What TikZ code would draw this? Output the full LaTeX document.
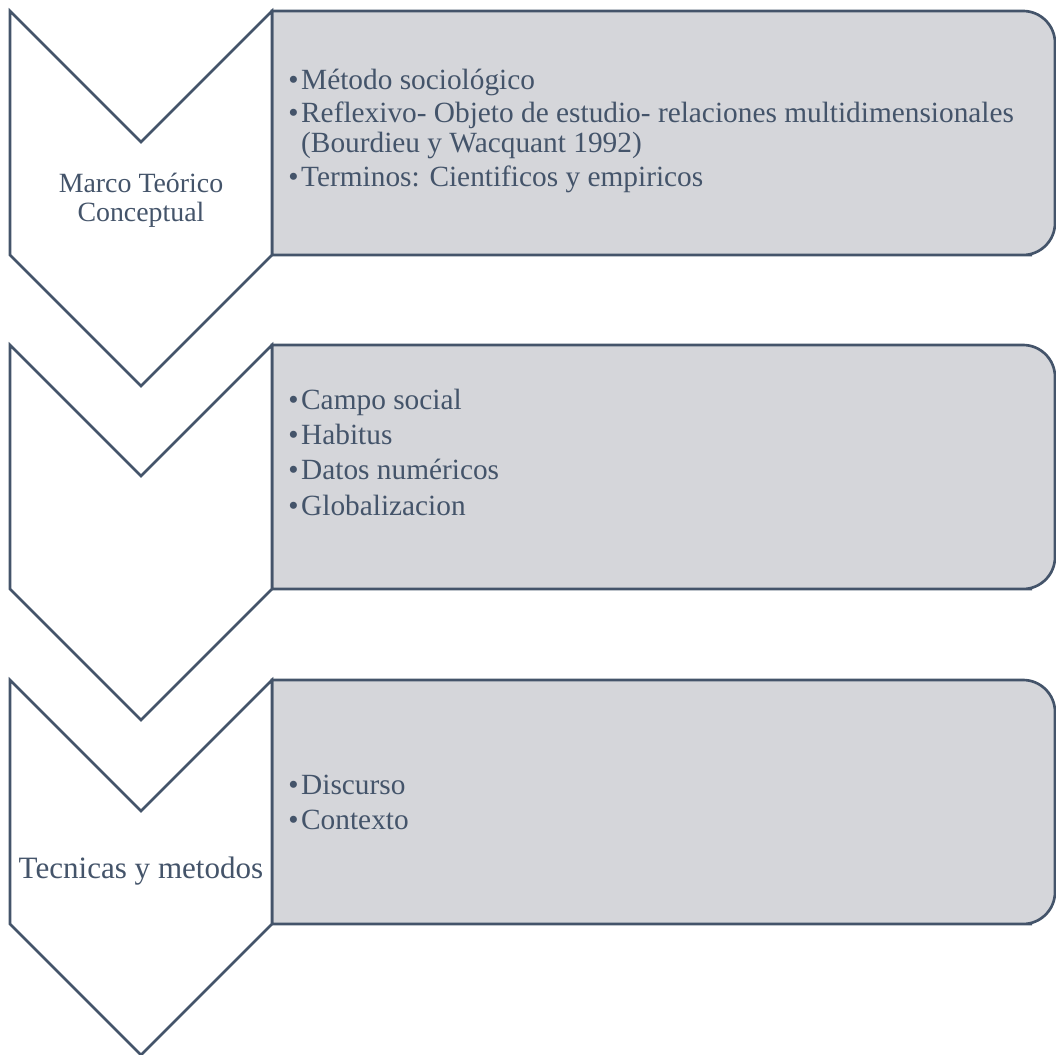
\documentclass[tikz,border=0pt]{standalone}
\usepackage{fontspec}
\setmainfont{Liberation Serif}
\usetikzlibrary{positioning}
\definecolor{slate}{HTML}{44546A}
\definecolor{panelgray}{HTML}{D5D6DA}
\newcommand{\bul}{•\kern2pt}

\begin{document}
\begin{tikzpicture}[
         x=0.75pt, y=-0.75pt,
         chevron/.style={draw=slate, line width=2pt, fill=white, line join=miter},
         panel/.style={draw=slate, line width=2pt, fill=panelgray},
         stage/.style={font=\fontsize{20.9}{21.3}\selectfont, text=slate, anchor=base, inner sep=0pt},
         item/.style={font=\fontsize{22}{22.5}\selectfont, text=slate, anchor=base west, inner sep=0pt}
      ]
         \useasboundingbox (0,0) rectangle (1056,1055);

         % Panels and chevrons for the three stages
         \foreach \t in {11,345,680}{
            \draw[panel] (272,\t) -- (1000,\t) [rounded corners=24pt] -- (1055,\t) -- (1055,\t+244) -- (1000,\t+244) [sharp corners] -- (272,\t+244) -- cycle;
            \draw[chevron] (10,\t) -- (141,\t+131) -- (272,\t) -- (272,\t+244) -- (141,\t+375) -- (10,\t+244) -- cycle;
         }

         % Stage labels
         \node[stage] (marco) at (141,193) {Marco Teórico};
         \node[stage] (concept) at (141,222) {Conceptual};
         \node[stage, font=\fontsize{23.3}{24}\selectfont] (tecnicas) at (141,878) {Tecnicas y metodos};

         % Items of the first panel
         \node[item] (a1) at (288,90) {\bul Método sociológico};
         \node[item] (a2) at (288,123) {\bul Reflexivo- Objeto de estudio- relaciones multidimensionales};
         \node[item] (a3) at (288,153) {\phantom{\bul}(Bourdieu y Wacquant 1992)};
         \node[item] (a4) at (288,187) {\bul Terminos: Cientificos y empiricos};

         % Items of the second panel
         \node[item] (b1) at (288,409) {\bul Campo social};
         \node[item] (b2) at (288,444) {\bul Habitus};
         \node[item] (b3) at (288,479) {\bul Datos numéricos};
         \node[item] (b4) at (288,515) {\bul Globalizacion};

         % Items of the third panel
         \node[item] (c1) at (288,794) {\bul Discurso};
         \node[item] (c2) at (288,829) {\bul Contexto};
      \end{tikzpicture}
\end{document}
